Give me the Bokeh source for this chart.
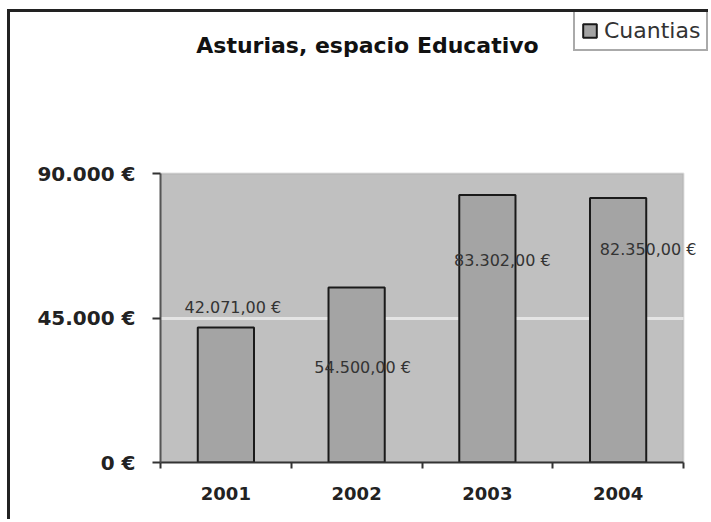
from bokeh.plotting import figure
from bokeh.models import (ColumnDataSource, FixedTicker, Range1d, Legend, LegendItem,
                          Label, BoxAnnotation)
from bokeh.core.properties import value
from bokeh.embed import file_html
from bokeh.resources import INLINE

# ---- data ----
years = ["2001", "2002", "2003", "2004"]
amounts = [42071.00, 54500.00, 83302.00, 82350.00]
y_ticks = [0, 45000, 90000]
y_tick_labels = ["0 €", "45.000 €", "90.000 €"]
series_name = "Cuantias"
title_text = "Asturias, espacio Educativo"

# label placement offsets (screen px) mimicking the original data-label positions
label_dx = [7, 6, 15, 30]
label_dy = [-20, 80, 65, 51]


def fmt_eur(v):
    s = f"{v:,.2f}"
    s = s.replace(",", "X").replace(".", ",").replace("X", ".")
    return s + " €"


# ---- layout constants (pixels) ----
W, H = 701, 510            # canvas size (page offset 10, 12 by the outer frame)
LEFT, BOTTOM = 150, 60     # space for axes
PLOT_W, PLOT_H = 523, 289  # the grey plotting area
FRAME_W, FRAME_H = W - LEFT, H - BOTTOM

n = len(years)
xs = [i + 1 for i in range(n)]
x0, x1 = 0.5, n + 0.5
y0, y1 = y_ticks[0], y_ticks[-1]
x_end = x0 + (x1 - x0) * FRAME_W / PLOT_W
y_end = y0 + (y1 - y0) * FRAME_H / PLOT_H

src = ColumnDataSource(dict(
    x=xs, top=amounts, year=years,
    lab=[fmt_eur(v) for v in amounts],
    dx=label_dx, dy=label_dy,
))

p = figure(width=W, height=H, output_backend="svg", toolbar_location=None,
           x_range=Range1d(x0, x_end), y_range=Range1d(y0, y_end),
           min_border_left=LEFT, min_border_right=0, min_border_top=0,
           min_border_bottom=BOTTOM)

p.background_fill_color = "white"
p.border_fill_color = "white"
p.outline_line_color = None
p.styles = {"margin-left": "7px", "margin-top": "9px",
            "border-left": "3px solid #222222", "border-top": "3px solid #222222"}

# grey plotting area
p.add_layout(BoxAnnotation(left=x0, right=x1, bottom=y0, top=y1, level="image",
                           fill_color="#c0c0c0", fill_alpha=1.0,
                           line_color="#9a9a9a", line_width=2))

bars = p.vbar(x="x", top="top", bottom=0, width=0.43, source=src,
              fill_color="#a4a4a4", line_color="#1a1a1a", line_width=2)

p.text(x="x", y="top", text="lab", x_offset="dx", y_offset="dy", source=src,
       text_align="center", text_baseline="middle",
       text_font=value("DejaVu Sans"), text_font_size="16px", text_color="#333333")

# grid
p.xgrid.visible = False
p.ygrid.ticker = FixedTicker(ticks=[y_ticks[1]])
p.ygrid.cross_bounds = (x0, x1)
p.ygrid.grid_line_color = "#e4e4e4"
p.ygrid.grid_line_width = 3

# y axis
ya = p.yaxis[0]
ya.bounds = (y0, y1)
ya.ticker = FixedTicker(ticks=y_ticks)
ya.major_label_overrides = {t: l for t, l in zip(y_ticks, y_tick_labels)}
ya.major_tick_out = 8
ya.major_tick_in = 0
ya.minor_tick_out = 0
ya.minor_tick_in = 0
ya.major_tick_line_color = "#333333"
ya.major_tick_line_width = 2
ya.axis_line_color = "#555555"
ya.axis_line_width = 2
ya.major_label_standoff = 17
ya.major_label_text_font = "DejaVu Sans"
ya.major_label_text_font_style = "bold"
ya.major_label_text_font_size = "20px"
ya.major_label_text_color = "#222222"

# x axis
xa = p.xaxis[0]
xa.bounds = (x0, x1)
xa.ticker = FixedTicker(ticks=xs, minor_ticks=[i + 0.5 for i in range(n + 1)])
xa.major_label_overrides = {x: y for x, y in zip(xs, years)}
xa.major_tick_out = 0
xa.major_tick_in = 0
xa.minor_tick_out = 6
xa.minor_tick_in = 0
xa.minor_tick_line_color = "#333333"
xa.minor_tick_line_width = 2
xa.axis_line_color = "#333333"
xa.axis_line_width = 2
xa.major_label_standoff = 18
xa.major_label_text_font = "DejaVu Sans"
xa.major_label_text_font_style = "bold"
xa.major_label_text_font_size = "18px"
xa.major_label_text_color = "#222222"

# title (screen units are measured from the frame's bottom-left corner)
p.add_layout(Label(x=207, y=417, x_units="screen", y_units="screen", text=title_text,
                   text_align="center", text_baseline="middle",
                   text_font="DejaVu Sans", text_font_style="bold",
                   text_font_size="22px", text_color="#111111"))

# legend
legend = Legend(items=[LegendItem(label=series_name, renderers=[bars])],
                location=(413, 411), orientation="vertical",
                padding=6, margin=0, spacing=0, label_standoff=6,
                glyph_width=17, glyph_height=17,
                label_text_font="DejaVu Sans", label_text_font_size="22px",
                label_text_color="#333333",
                border_line_color="#555555", border_line_width=2,
                background_fill_color="white", background_fill_alpha=1.0)
p.add_layout(legend)

open("out.html", "w").write(file_html(p, INLINE))
